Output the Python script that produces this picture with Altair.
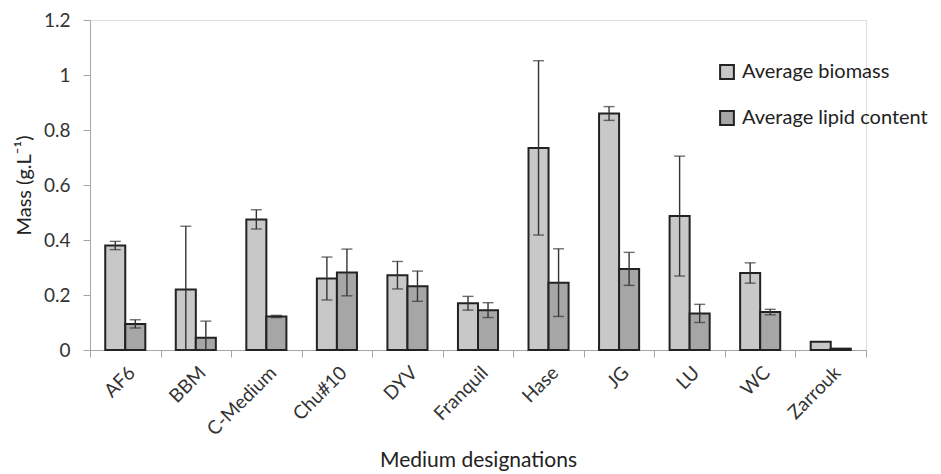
import altair as alt
import pandas as pd

media = ["AF6", "BBM", "C-Medium", "Chu#10", "DYV", "Franquil", "Hase", "JG", "LU", "WC", "Zarrouk"]
biomass = [0.38, 0.22, 0.475, 0.26, 0.272, 0.17, 0.735, 0.86, 0.487, 0.28, 0.03]
biomass_err = [0.015, 0.23, 0.035, 0.078, 0.05, 0.025, 0.317, 0.025, 0.218, 0.037, None]
lipid = [0.095, 0.045, 0.122, 0.282, 0.232, 0.145, 0.245, 0.295, 0.133, 0.138, 0.005]
lipid_err = [0.015, 0.06, 0.004, 0.085, 0.055, 0.027, 0.123, 0.06, 0.033, 0.01, None]
series = ["Average biomass", "Average lipid content"]

rows = []
for i, m in enumerate(media):
    for s, v, e in ((series[0], biomass[i], biomass_err[i]), (series[1], lipid[i], lipid_err[i])):
        rows.append({"medium": m, "series": s, "value": v,
                     "low": None if e is None else max(0.0, v - e),
                     "high": None if e is None else v + e})
df = pd.DataFrame(rows)

FONT = "Lato"
x = alt.X("medium:N", sort=media, title="Medium designations",
          scale=alt.Scale(paddingInner=0, paddingOuter=0),
          axis=alt.Axis(labelAngle=-45, tickBand="extent", labelFontSize=19, titleFontSize=21,
                        labelColor="#333", titleColor="#222", domainColor="#a6a6a6", tickColor="#a6a6a6",
                        tickSize=7, labelPadding=6, titlePadding=10, labelFont=FONT, titleFont=FONT,
                        titleFontWeight="normal"))
xo = alt.XOffset("series:N", sort=series, scale=alt.Scale(paddingInner=0, paddingOuter=0.76))

bars = alt.Chart(df).mark_bar(stroke="#222", strokeWidth=2).encode(
    x=x, xOffset=xo,
    y=alt.Y("value:Q", title="Mass (g.L⁻¹)",
            scale=alt.Scale(domain=[0, 1.2]),
            axis=alt.Axis(values=[0, 0.2, 0.4, 0.6, 0.8, 1.0, 1.2], grid=False, labelFontSize=19,
                          titleFontSize=20, labelColor="#333", titleColor="#222", domainColor="#a6a6a6",
                          tickColor="#a6a6a6", tickSize=7, labelPadding=13, titlePadding=9,
                          labelFont=FONT, titleFont=FONT, titleFontWeight="normal",
                          labelExpr="datum.value == 0 ? '0' : datum.value == 1 ? '1' : format(datum.value, '.1f')")),
    fill=alt.Fill("series:N", sort=series,
                  scale=alt.Scale(domain=series, range=["#c8c8c8", "#a6a6a6"]),
                  legend=alt.Legend(title=None, orient="none", legendX=627, legendY=42,
                                    symbolType="square", symbolSize=190, symbolStrokeColor="#222",
                                    symbolStrokeWidth=2, labelFontSize=20, labelFont=FONT,
                                    labelColor="#222", rowPadding=24, labelOffset=5, labelLimit=400)),
)

err = alt.Chart(df).transform_filter("datum.low != null")
rule = err.mark_rule(color="#333", strokeWidth=1.4).encode(
    x=x, xOffset=xo, y="low:Q", y2="high:Q")
cap_hi = err.mark_tick(color="#333", thickness=1.4, size=11).encode(x=x, xOffset=xo, y="high:Q")
cap_lo = err.mark_tick(color="#333", thickness=1.4, size=11).encode(x=x, xOffset=xo, y="low:Q")

chart = alt.layer(bars, rule, cap_hi, cap_lo).properties(width=776, height=330).configure_view(
    stroke=None).configure(padding={"left": 6, "top": 3, "right": 5, "bottom": 5})

chart.save("out.html", embed_options={"renderer": "svg", "actions": False})
